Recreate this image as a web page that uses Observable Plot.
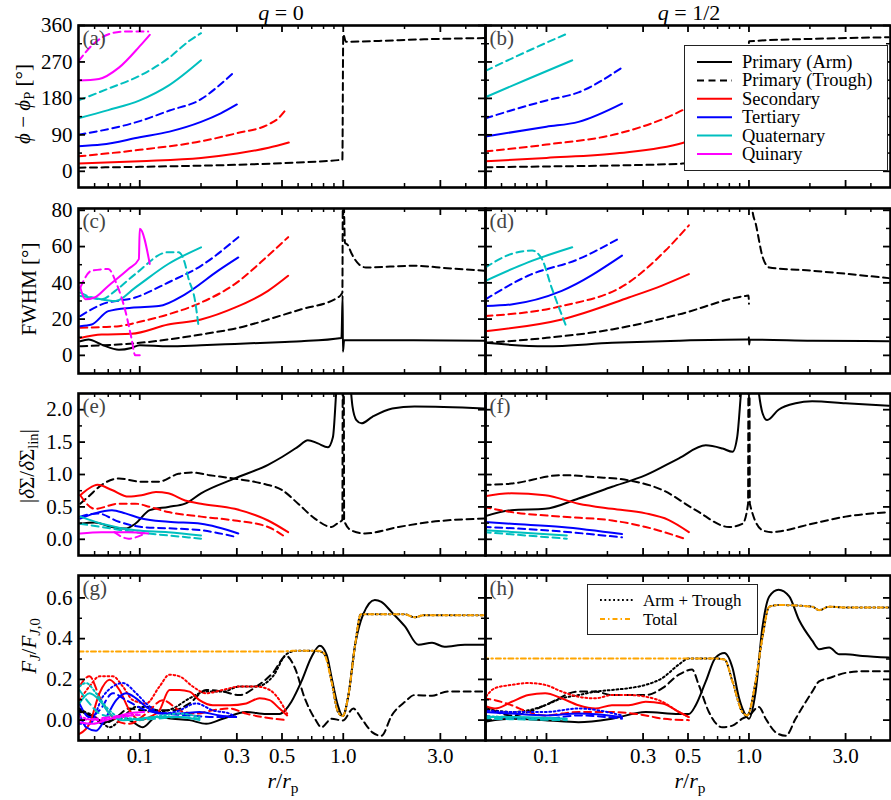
<!DOCTYPE html>
<html><head><meta charset="utf-8">
<script src="https://cdn.jsdelivr.net/npm/d3@7"></script>
<script src="https://cdn.jsdelivr.net/npm/@observablehq/plot@0.6"></script>
<style>
html,body{margin:0;padding:0;background:#fff;overflow:hidden;}
#fig{position:relative;width:891px;height:800px;font-family:"Liberation Serif",serif;color:#000;}
.t{position:absolute;white-space:nowrap;transform:translate(-50%,-50%);line-height:1;}
.rot{transform:translate(-50%,-50%) rotate(-90deg);}
sub{font-size:0.7em;vertical-align:-0.3em;line-height:0;}
#fig svg text{font-family:"Liberation Serif",serif;}
</style></head>
<body><div id="fig"></div>
<script>
// ---------- axis ticks / labels ----------
const xDomain = [0.05, 5];
const xMajor = [0.1, 0.3, 0.5, 1, 3];
const xMajorLabels = ["0.1", "0.3", "0.5", "1.0", "3.0"];
const xMinor = [0.06, 0.07, 0.08, 0.09, 0.2, 0.4, 0.6, 0.7, 0.8, 0.9, 2, 4];
const phaseTicks = [0, 90, 180, 270, 360], phaseLabels = ["0", "90", "180", "270", "360"], phaseMinor = [45, 135, 225, 315];
const fwhmTicks = [0, 20, 40, 60, 80], fwhmLabels = ["0", "20", "40", "60", "80"], fwhmMinor = [10, 30, 50, 70];
const ampTicks = [0, 0.5, 1, 1.5, 2], ampLabels = ["0.0", "0.5", "1.0", "1.5", "2.0"], ampMinor = [0.25, 0.75, 1.25, 1.75];
const fluxTicks = [0, 0.2, 0.4, 0.6], fluxLabels = ["0.0", "0.2", "0.4", "0.6"], fluxMinor = [0.1, 0.3, 0.5];
const colTitles = ["<i>q</i> = 0", "<i>q</i> = 1/2"];
const legendNames = ["Primary (Arm)", "Primary (Trough)", "Secondary", "Tertiary", "Quaternary", "Quinary"];
const legend2Names = ["Arm + Trough", "Total"];

// ---------- (a) phase, q=0 ----------
const a_pri_trough = [[0.05,9],[0.1,11],[0.2,14],[0.3,16],[0.6,22],[0.8,25],[0.99,29],[1.0,338],[1.03,320],[1.5,322],[2.5,326],[5,329]];
const a_sec_arm = [[0.05,19],[0.1,25],[0.2,33],[0.3,44],[0.43,58],[0.54,71]];
const a_sec_trough = [[0.05,37],[0.1,53],[0.2,74],[0.3,94],[0.43,116],[0.48,131],[0.52,151]];
const a_ter_arm = [[0.05,62],[0.065,66],[0.1,84],[0.14,98],[0.2,122],[0.25,143],[0.3,165]];
const a_ter_trough = [[0.05,90],[0.1,124],[0.14,150],[0.2,178],[0.243,210],[0.29,244]];
const a_qua_arm = [[0.05,131],[0.07,151],[0.1,175],[0.139,212],[0.2,274]];
const a_qua_trough = [[0.05,175],[0.07,204],[0.1,236],[0.139,280],[0.174,321],[0.2,341]];
const a_qui_arm = [[0.05,224],[0.063,228],[0.079,256],[0.1,309],[0.112,337]];
const a_qui_trough = [[0.05,272],[0.06,317],[0.073,341],[0.084,345],[0.11,345]];
// ---------- (b) phase, q=1/2 ----------
const b_pri_trough = [[0.05,10],[0.1,12],[0.2,14],[0.47,19],[0.7,24],[0.99,28],[1.0,321],[2.05,327],[4.9,331]];
const b_sec_arm = [[0.05,25],[0.1,33],[0.23,45],[0.47,70],[0.5,74]];
const b_sec_trough = [[0.05,49],[0.1,66],[0.23,94],[0.47,151],[0.5,158]];
const b_ter_arm = [[0.05,86],[0.1,110],[0.144,122],[0.236,167]];
const b_ter_trough = [[0.05,131],[0.1,175],[0.144,195],[0.236,256]];
const b_qua_arm = [[0.05,183],[0.081,228],[0.134,274]];
const b_qua_trough = [[0.05,248],[0.081,297],[0.128,341]];
// ---------- (c) FWHM, q=0 ----------
const c_pri_arm = [[0.051,7.8],[0.056,8.7],[0.065,5.9],[0.079,3.1],[0.091,4.1],[0.1,5.6],[0.138,5.0],[0.2,5.6],[0.293,6.3],[0.516,7.4],[0.622,7.8],[0.98,9.6],[0.993,33],[0.996,2],[1.01,8.3],[1.5,8.3],[5,8.1]];
const c_pri_trough = [[0.051,5],[0.1,6.9],[0.2,11.5],[0.305,15.2],[0.516,22.6],[0.622,25.4],[0.94,31.9],[0.99,34.6],[0.996,95],[1.0,95],[1.02,62],[1.05,61],[1.1,56],[1.2,50],[1.29,48.5],[2.24,49.4],[3.25,48.1],[4.93,46.7]];
const c_sec_arm = [[0.051,9.6],[0.065,11.5],[0.091,11.9],[0.138,17],[0.2,19.8],[0.293,26.3],[0.427,35.6],[0.536,43.9]];
const c_sec_trough = [[0.051,15.2],[0.065,15.6],[0.079,16.1],[0.1,18.5],[0.138,22.6],[0.2,29.1],[0.293,39.3],[0.427,55],[0.536,65.2]];
const c_ter_arm = [[0.051,16.1],[0.058,17],[0.07,24.4],[0.091,26.3],[0.124,27.2],[0.167,33.7],[0.243,46.7],[0.305,54]];
const c_ter_trough = [[0.051,21.7],[0.065,28.1],[0.095,31.9],[0.138,40.2],[0.2,49.4],[0.305,65.2]];
const c_qua_arm = [[0.051,32.8],[0.058,31.9],[0.076,30],[0.095,37.4],[0.138,50.4],[0.2,59.6]];
const c_qua_trough = [[0.051,34.6],[0.065,30.9],[0.076,35.7],[0.095,44.8],[0.138,56.9],[0.155,56.9],[0.167,50.4],[0.173,43],[0.187,30],[0.194,17]];
const c_qui_arm = [[0.051,37.4],[0.054,30.9],[0.06,31.9],[0.07,38.3],[0.088,47.6],[0.099,53.1],[0.1,69.8],[0.112,50.4]];
const c_qui_trough = [[0.051,37.4],[0.058,46.7],[0.07,47.6],[0.077,39.3],[0.085,24.4],[0.091,9.6],[0.095,0],[0.1,0]];
// ---------- (d) FWHM, q=1/2 ----------
const d_pri_arm = [[0.05,6.9],[0.0985,5],[0.211,6.9],[0.451,8.1],[0.96,8.7],[0.995,8.7],[1.0,10],[1.002,6],[1.01,8.7],[2.05,8.1],[4.9,7.8]];
const d_pri_trough_in = [[0.05,6.9],[0.0985,9.6],[0.211,14.3],[0.451,22.6],[0.964,32.8],[0.995,33],[1.0,28.5]];
const d_pri_trough_out = [[1.03,85],[1.04,80],[1.08,72.6],[1.17,54],[1.26,48.5],[2.05,46.7],[4.9,42.6]];
const d_sec_arm = [[0.05,13.3],[0.119,19.8],[0.255,31.9],[0.372,38.5],[0.505,44.8]];
const d_sec_trough = [[0.05,21.7],[0.119,27.2],[0.255,40.2],[0.387,57.8],[0.505,71.7]];
const d_ter_arm = [[0.05,27.2],[0.067,28.1],[0.119,35.6],[0.236,55]];
const d_ter_trough = [[0.05,30.9],[0.081,43.9],[0.144,53.1],[0.227,64.3]];
const d_qua_arm = [[0.05,41.1],[0.081,51.3],[0.134,59.6]];
const d_qua_trough = [[0.05,48.5],[0.067,55.9],[0.085,57.8],[0.095,53.1],[0.106,37.4],[0.126,15.2]];
// ---------- (e) amplitude, q=0 ----------
const e_pri_arm = [[0.051,0.24],[0.06,0.26],[0.073,0.19],[0.085,0.165],[0.095,0.24],[0.112,0.45],[0.138,0.5],[0.167,0.55],[0.2,0.71],[0.293,0.94],[0.427,1.15],[0.5,1.27],[0.6,1.43],[0.67,1.53],[0.75,1.48],[0.84,1.42],[0.89,1.58],[0.92,2.2],[0.95,3],[0.99,3.5],[1.05,3],[1.09,2.3],[1.11,2.05],[1.16,1.84],[1.23,1.79],[1.39,1.89],[1.74,2.02],[2.24,2.05],[4.93,2.02]];
const e_pri_trough = [[0.051,0.55],[0.056,0.66],[0.065,0.84],[0.079,0.94],[0.1,0.89],[0.124,0.89],[0.155,1.01],[0.18,1.03],[0.22,0.99],[0.3,0.93],[0.4,0.86],[0.5,0.76],[0.6,0.55],[0.725,0.32],[0.875,0.19],[0.94,0.25],[0.99,0.3],[0.995,3],[1.005,3],[1.01,0.29],[1.093,0.14],[1.28,0.09],[1.87,0.19],[2.73,0.27],[4.93,0.32]];
const e_sec_arm = [[0.051,0.68],[0.056,0.78],[0.062,0.84],[0.073,0.76],[0.088,0.66],[0.102,0.68],[0.12,0.73],[0.138,0.71],[0.167,0.6],[0.2,0.55],[0.293,0.47],[0.427,0.29],[0.536,0.11]];
const e_sec_trough = [[0.051,0.68],[0.06,0.47],[0.079,0.55],[0.095,0.55],[0.112,0.5],[0.138,0.42],[0.2,0.35],[0.293,0.29],[0.427,0.19],[0.516,0.04]];
const e_ter_arm = [[0.051,0.32],[0.06,0.4],[0.073,0.45],[0.085,0.4],[0.102,0.32],[0.138,0.27],[0.2,0.24],[0.305,0.09]];
const e_ter_trough = [[0.051,0.35],[0.062,0.4],[0.079,0.27],[0.102,0.19],[0.138,0.17],[0.2,0.14],[0.293,0.04]];
const e_qua_arm = [[0.051,0.35],[0.065,0.24],[0.095,0.14],[0.138,0.11],[0.2,0.06]];
const e_qua_trough = [[0.051,0.24],[0.065,0.19],[0.095,0.11],[0.138,0.06],[0.2,0.01]];
const e_qui_arm = [[0.051,0.09],[0.065,0.11],[0.088,0.11],[0.11,0.09]];
const e_qui_trough = [[0.075,0.11],[0.088,0.01],[0.106,0.09]];
// ---------- (f) amplitude, q=1/2 ----------
const f_pri_arm = [[0.049,0.35],[0.067,0.45],[0.0985,0.47],[0.144,0.63],[0.211,0.81],[0.309,0.99],[0.451,1.25],[0.612,1.45],[0.741,1.4],[0.83,1.35],[0.875,1.58],[0.91,2.2],[0.95,3],[1.0,3.5],[1.06,3],[1.12,2.25],[1.166,1.95],[1.23,1.84],[1.4,2.0],[1.7,2.1],[2.05,2.13],[3.0,2.1],[4.91,2.06]];
const f_pri_trough = [[0.049,0.84],[0.067,0.86],[0.119,0.99],[0.174,0.96],[0.255,0.91],[0.374,0.76],[0.546,0.45],[0.798,0.19],[0.93,0.24],[0.99,0.55],[0.995,3],[1.005,3],[1.01,0.55],[1.166,0.14],[1.3,0.11],[1.4,0.12],[2.05,0.24],[3.0,0.35],[4.91,0.42]];
const f_sec_arm = [[0.049,0.66],[0.067,0.71],[0.0985,0.68],[0.144,0.55],[0.211,0.47],[0.309,0.4],[0.4,0.3],[0.505,0.11]];
const f_sec_trough = [[0.049,0.5],[0.067,0.42],[0.119,0.35],[0.211,0.29],[0.309,0.19],[0.48,0.01]];
const f_ter_arm = [[0.049,0.27],[0.067,0.24],[0.119,0.19],[0.236,0.08]];
const f_ter_trough = [[0.049,0.19],[0.0985,0.14],[0.236,0.03]];
const f_qua_arm = [[0.049,0.14],[0.126,0.06]];
const f_qua_trough = [[0.049,0.11],[0.126,0.01]];
// ---------- (g) angular momentum flux, q=0 ----------
const g_pri_arm = [[0.0505,0.048],[0.0588,0.015],[0.0684,-0.01],[0.0795,0.023],[0.0925,-0.01],[0.1035,-0.035],[0.1204,0.015],[0.1454,0.007],[0.1755,0],[0.212,-0.018],[0.256,0.007],[0.3336,0.04],[0.418,0.03],[0.486,0.03],[0.52,0.05],[0.556,0.09],[0.623,0.19],[0.698,0.31],[0.767,0.365],[0.829,0.32],[0.876,0.21],[0.942,0.07],[0.995,0.02],[1.059,0.12],[1.144,0.37],[1.254,0.52],[1.43,0.59],[1.54,0.58],[1.73,0.53],[2.01,0.46],[2.34,0.37],[2.73,0.38],[3.14,0.36],[3.96,0.37],[4.97,0.37]];
const g_pri_trough = [[0.0505,0.057],[0.0588,0.015],[0.0658,-0.018],[0.0737,0],[0.089,0.057],[0.1035,0.048],[0.1454,0.048],[0.1755,0.082],[0.212,0.148],[0.256,0.14],[0.309,0.123],[0.3738,0.165],[0.451,0.232],[0.5246,0.315],[0.578,0.257],[0.647,0.107],[0.725,0.007],[0.782,-0.035],[0.876,0.007],[0.995,-0.002],[1.12,0.057],[1.23,0.007],[1.39,-0.06],[1.54,-0.077],[1.73,0.023],[2.01,0.09],[2.24,0.123],[2.73,0.12],[3.25,0.14],[4.97,0.14]];
const g_pri_sum = [[0.0505,0.04],[0.0566,0.032],[0.0634,0],[0.071,-0.035],[0.0826,0.015],[0.096,0.065],[0.1116,0.065],[0.125,0.04],[0.1454,0.057],[0.1755,0.107],[0.212,0.14],[0.256,0.14],[0.309,0.165],[0.3738,0.165],[0.451,0.215],[0.5246,0.323],[0.5875,0.34],[0.7,0.34],[0.78,0.335],[0.83,0.3],[0.876,0.19],[0.942,0.04],[0.995,0.02],[1.059,0.12],[1.144,0.37],[1.22,0.52],[1.5,0.52],[2.0,0.52],[2.24,0.505],[2.5,0.515],[5,0.515]];
const g_total = [[0.05,0.337],[0.5,0.337],[0.56,0.34],[0.75,0.34],[0.8,0.33],[0.876,0.19],[0.942,0.04],[0.995,0.02],[1.059,0.12],[1.144,0.37],[1.22,0.52],[2.0,0.52],[2.24,0.505],[2.5,0.515],[5,0.515]];
const g_sec_arm = [[0.0505,-0.068],[0.0566,-0.018],[0.0634,0.132],[0.071,0.198],[0.0795,0.148],[0.089,0.048],[0.0997,0],[0.1116,0.015],[0.125,0.048],[0.14,0.148],[0.1567,0.148],[0.1755,0.14],[0.1966,0.098],[0.2285,0.073],[0.276,0.073],[0.3336,0.082],[0.388,0.107],[0.4346,0.098],[0.486,0.057],[0.53,0.023]];
const g_sec_trough = [[0.0505,0.165],[0.0566,0.215],[0.0634,0.115],[0.071,0.032],[0.0795,-0.01],[0.089,-0.018],[0.1075,0.032],[0.1298,0.098],[0.1567,0.048],[0.1892,0.032],[0.2285,0.048],[0.276,0.057],[0.3336,0.032],[0.4025,0.015],[0.5246,0]];
const g_sec_sum = [[0.0505,0.098],[0.0566,0.165],[0.0634,0.215],[0.0737,0.215],[0.0826,0.165],[0.0925,0.098],[0.1075,0.082],[0.125,0.165],[0.14,0.223],[0.1567,0.215],[0.1822,0.165],[0.212,0.132],[0.256,0.148],[0.309,0.165],[0.3738,0.165],[0.4346,0.148],[0.486,0.098],[0.53,0.032]];
const g_ter_arm = [[0.0505,0.032],[0.0545,-0.035],[0.061,-0.052],[0.0684,0.015],[0.0766,0.098],[0.0857,0.132],[0.096,0.107],[0.1075,0.065],[0.125,0.032],[0.1567,0.032],[0.1966,0.04],[0.2465,0.023],[0.2976,0.015]];
const g_ter_trough = [[0.0505,0.082],[0.0566,0.015],[0.0634,0.048],[0.0737,0.132],[0.0857,0.098],[0.1075,0.048],[0.1348,0.032],[0.1755,0.023],[0.2285,0.015],[0.2976,0.015]];
const g_ter_sum = [[0.0505,-0.018],[0.0566,-0.018],[0.0658,0.115],[0.0737,0.165],[0.0826,0.182],[0.096,0.132],[0.1075,0.082],[0.1298,0.032],[0.1567,0.048],[0.1892,0.082],[0.2285,0.048],[0.276,0.032],[0.2976,0.015]];
const g_qua_arm = [[0.0505,0.082],[0.0566,0.132],[0.0634,0.098],[0.071,0.032],[0.0826,0],[0.0997,0.007],[0.1204,0.015],[0.1567,0.015],[0.1966,0]];
const g_qua_trough = [[0.0505,0.148],[0.0566,0.082],[0.0634,0.032],[0.0737,0.015],[0.0925,0],[0.1204,0.007],[0.1567,0.015],[0.1966,0.007]];
const g_qua_sum = [[0.0505,0.165],[0.0545,0.182],[0.061,0.132],[0.0684,0.065],[0.0795,0.015],[0.0997,0.007],[0.1298,0.023],[0.1567,0.032],[0.1966,0.015]];
const g_qui_arm = [[0.0505,-0.01],[0.0588,-0.018],[0.0684,0],[0.0795,0.02],[0.09,0.035],[0.105,0.04]];
const g_qui_trough = [[0.0505,0],[0.065,0.01],[0.08,0.02],[0.1,0.025]];
const g_qui_sum = [[0.0505,0.02],[0.06,0],[0.075,0.01],[0.1,0.03]];
// ---------- (h) angular momentum flux, q=1/2 ----------
const h_pri_arm = [[0.0488,-0.01],[0.0557,0],[0.0673,0.007],[0.0985,0],[0.144,-0.01],[0.2106,0.007],[0.309,0.04],[0.4507,0.03],[0.505,0.03],[0.546,0.073],[0.612,0.19],[0.684,0.307],[0.757,0.33],[0.829,0.257],[0.894,0.107],[0.964,0.023],[1.0,0.007],[1.079,0.14],[1.166,0.457],[1.26,0.607],[1.4,0.64],[1.58,0.607],[1.77,0.49],[2.054,0.39],[2.22,0.348],[2.49,0.357],[2.79,0.323],[3.0,0.323],[3.64,0.315],[4.91,0.307]];
const h_pri_trough = [[0.0488,0.073],[0.0673,0.023],[0.0814,0.04],[0.0985,0.073],[0.144,0.14],[0.1744,0.14],[0.2106,0.123],[0.309,0.123],[0.374,0.157],[0.4507,0.223],[0.524,0.248],[0.565,0.173],[0.634,0.04],[0.738,-0.035],[0.829,-0.027],[0.927,0.007],[1.0,0.023],[1.12,0.065],[1.21,0.007],[1.356,-0.06],[1.52,-0.077],[1.7,0.007],[2.054,0.14],[2.22,0.19],[2.49,0.207],[3.0,0.232],[3.64,0.24],[4.91,0.24]];
const h_pri_sum = [[0.0488,0.057],[0.0673,0.04],[0.0814,0.048],[0.0985,0.073],[0.119,0.107],[0.144,0.123],[0.1744,0.14],[0.2106,0.148],[0.255,0.157],[0.309,0.173],[0.374,0.207],[0.4507,0.273],[0.505,0.303],[0.661,0.303],[0.757,0.298],[0.829,0.19],[0.927,0.04],[0.98,0.023],[1.079,0.19],[1.166,0.407],[1.26,0.557],[1.4,0.565],[2.054,0.557],[2.22,0.54],[2.49,0.557],[3.0,0.553],[4.91,0.553]];
const h_total = [[0.0488,0.303],[0.505,0.303],[0.661,0.303],[0.757,0.298],[0.829,0.19],[0.927,0.04],[0.98,0.023],[1.079,0.19],[1.166,0.407],[1.26,0.557],[1.4,0.565],[2.054,0.557],[2.22,0.54],[2.49,0.557],[3.0,0.553],[4.91,0.553]];
const h_sec_arm = [[0.0488,0.073],[0.0557,0.057],[0.0673,0.09],[0.0814,0.123],[0.0985,0.132],[0.119,0.107],[0.144,0.073],[0.1744,0.057],[0.2106,0.073],[0.255,0.073],[0.309,0.09],[0.374,0.082],[0.4507,0.04],[0.505,0.015]];
const h_sec_trough = [[0.0488,0.107],[0.0557,0.098],[0.0673,0.073],[0.0814,0.04],[0.0985,0.023],[0.119,0.032],[0.144,0.04],[0.2106,0.04],[0.309,0.023],[0.374,0.007],[0.505,0]];
const h_sec_sum = [[0.0488,0.098],[0.0557,0.157],[0.0673,0.173],[0.0814,0.182],[0.0985,0.173],[0.119,0.14],[0.144,0.115],[0.1744,0.107],[0.2106,0.123],[0.255,0.123],[0.309,0.115],[0.374,0.09],[0.4507,0.04],[0.505,0.015]];
const h_ter_arm = [[0.0488,0.04],[0.0673,0.032],[0.0985,0.023],[0.144,0.032],[0.236,0.015]];
const h_ter_trough = [[0.0488,0.023],[0.0673,0.007],[0.0985,0.007],[0.144,0.023],[0.236,0.007]];
const h_ter_sum = [[0.0488,0.048],[0.0673,0.04],[0.0985,0.04],[0.144,0.057],[0.236,0.023]];
const h_qua_arm = [[0.0488,0.015],[0.0673,0.015],[0.126,0.007]];
const h_qua_trough = [[0.0488,0.007],[0.126,0]];
const h_qua_sum = [[0.0488,0.02],[0.126,0.003]];

// ---------- styles ----------
const FONT = "'Liberation Serif', serif";
const COLORS = {k: "#000000", r: "#ff0000", b: "#0000ff", c: "#00bfbf", m: "#ff00ff", o: "#ffa500"};
const DASHES = {solid: null, dash: "7,4.5", dot: "1.8,2.6", dashdot: "5,3,1.5,3"};

const cols = [{left: 78, w: 407}, {left: 485, w: 405}];
const rows = [
  {top: 25, h: 162, domain: [-40, 360], major: phaseTicks, minor: phaseMinor, labels: phaseLabels},
  {top: 208, h: 165, domain: [-10, 81], major: fwhmTicks, minor: fwhmMinor, labels: fwhmLabels},
  {top: 393, h: 162, domain: [-0.25, 2.25], major: ampTicks, minor: ampMinor, labels: ampLabels},
  {top: 575, h: 165, domain: [-0.1, 0.71], major: fluxTicks, minor: fluxMinor, labels: fluxLabels}
];

const panels = [
  {col: 0, row: 0, letter: "(a)", series: [[a_pri_trough,"k","dash"],[a_sec_arm,"r","solid"],[a_sec_trough,"r","dash"],[a_ter_arm,"b","solid"],[a_ter_trough,"b","dash"],[a_qua_arm,"c","solid"],[a_qua_trough,"c","dash"],[a_qui_arm,"m","solid"],[a_qui_trough,"m","dash"]]},
  {col: 1, row: 0, letter: "(b)", series: [[b_pri_trough,"k","dash"],[b_sec_arm,"r","solid"],[b_sec_trough,"r","dash"],[b_ter_arm,"b","solid"],[b_ter_trough,"b","dash"],[b_qua_arm,"c","solid"],[b_qua_trough,"c","dash"]]},
  {col: 0, row: 1, letter: "(c)", series: [[c_pri_arm,"k","solid"],[c_pri_trough,"k","dash"],[c_sec_arm,"r","solid"],[c_sec_trough,"r","dash"],[c_ter_arm,"b","solid"],[c_ter_trough,"b","dash"],[c_qua_arm,"c","solid"],[c_qua_trough,"c","dash"],[c_qui_arm,"m","solid"],[c_qui_trough,"m","dash"]]},
  {col: 1, row: 1, letter: "(d)", series: [[d_pri_arm,"k","solid"],[d_pri_trough_in,"k","dash"],[d_pri_trough_out,"k","dash"],[d_sec_arm,"r","solid"],[d_sec_trough,"r","dash"],[d_ter_arm,"b","solid"],[d_ter_trough,"b","dash"],[d_qua_arm,"c","solid"],[d_qua_trough,"c","dash"]]},
  {col: 0, row: 2, letter: "(e)", series: [[e_pri_arm,"k","solid"],[e_pri_trough,"k","dash"],[e_sec_arm,"r","solid"],[e_sec_trough,"r","dash"],[e_ter_arm,"b","solid"],[e_ter_trough,"b","dash"],[e_qua_arm,"c","solid"],[e_qua_trough,"c","dash"],[e_qui_arm,"m","solid"],[e_qui_trough,"m","dash"]]},
  {col: 1, row: 2, letter: "(f)", series: [[f_pri_arm,"k","solid"],[f_pri_trough,"k","dash"],[f_sec_arm,"r","solid"],[f_sec_trough,"r","dash"],[f_ter_arm,"b","solid"],[f_ter_trough,"b","dash"],[f_qua_arm,"c","solid"],[f_qua_trough,"c","dash"]]},
  {col: 0, row: 3, letter: "(g)", series: [[g_pri_arm,"k","solid"],[g_pri_trough,"k","dash"],[g_pri_sum,"k","dot"],[g_sec_arm,"r","solid"],[g_sec_trough,"r","dash"],[g_sec_sum,"r","dot"],[g_ter_arm,"b","solid"],[g_ter_trough,"b","dash"],[g_ter_sum,"b","dot"],[g_qua_arm,"c","solid"],[g_qua_trough,"c","dash"],[g_qua_sum,"c","dot"],[g_qui_arm,"m","solid"],[g_qui_trough,"m","dash"],[g_qui_sum,"m","dot"],[g_total,"o","dashdot"]]},
  {col: 1, row: 3, letter: "(h)", series: [[h_pri_arm,"k","solid"],[h_pri_trough,"k","dash"],[h_pri_sum,"k","dot"],[h_sec_arm,"r","solid"],[h_sec_trough,"r","dash"],[h_sec_sum,"r","dot"],[h_ter_arm,"b","solid"],[h_ter_trough,"b","dash"],[h_ter_sum,"b","dot"],[h_qua_arm,"c","solid"],[h_qua_trough,"c","dash"],[h_qua_sum,"c","dot"],[h_total,"o","dashdot"]]}
];

const fig = document.getElementById("fig");

function makePanel(p) {
  const col = cols[p.col], row = rows[p.row];
  const W = col.w, H = row.h;
  const mL = p.col === 0 ? 78 : 3, mR = 3, mT = 3, mB = p.row === 3 ? 34 : 3;
  const marks = [];
  for (const [data, c, s] of p.series) {
    marks.push(Plot.line(data, {x: d => d[0], y: d => d[1], stroke: COLORS[c], strokeWidth: 2, strokeDasharray: DASHES[s], curve: "monotone-x", clip: true}));
  }
  marks.push(Plot.tickX(xMajor, {x: d => d, insetTop: H - 7, strokeWidth: 1.8}));
  marks.push(Plot.tickX(xMajor, {x: d => d, insetBottom: H - 7, strokeWidth: 1.8}));
  marks.push(Plot.tickX(xMinor, {x: d => d, insetTop: H - 4, strokeWidth: 1.5}));
  marks.push(Plot.tickX(xMinor, {x: d => d, insetBottom: H - 4, strokeWidth: 1.5}));
  marks.push(Plot.tickY(row.major, {y: d => d, insetRight: W - 7, strokeWidth: 1.8}));
  marks.push(Plot.tickY(row.major, {y: d => d, insetLeft: W - 7, strokeWidth: 1.8}));
  marks.push(Plot.tickY(row.minor, {y: d => d, insetRight: W - 4, strokeWidth: 1.5}));
  marks.push(Plot.tickY(row.minor, {y: d => d, insetLeft: W - 4, strokeWidth: 1.5}));
  marks.push(Plot.frame({stroke: "#000", strokeWidth: 2.6}));
  if (p.col === 0) {
    marks.push(Plot.text(row.major, {y: d => d, text: (d, i) => row.labels[i], frameAnchor: "left", textAnchor: "end", dx: -6, fontSize: 21, fontFamily: FONT, fill: "#000"}));
  }
  if (p.row === 3) {
    marks.push(Plot.text(xMajor, {x: d => d, text: (d, i) => xMajorLabels[i], frameAnchor: "bottom", lineAnchor: "top", dy: 8, fontSize: 21, fontFamily: FONT, fill: "#000"}));
  }
  marks.push(Plot.text([p.letter], {text: d => d, frameAnchor: "top-left", textAnchor: "start", lineAnchor: "top", dx: 4, dy: 5, fontSize: 21, fontFamily: FONT, fill: "#444"}));
  const svg = Plot.plot({
    width: W + mL + mR, height: H + mT + mB,
    marginLeft: mL, marginRight: mR, marginTop: mT, marginBottom: mB,
    x: {type: "log", domain: xDomain, axis: null},
    y: {domain: row.domain, axis: null},
    style: {background: "transparent", overflow: "visible", fontFamily: FONT},
    marks
  });
  svg.style.position = "absolute";
  svg.style.left = (col.left - mL) + "px";
  svg.style.top = (row.top - mT) + "px";
  svg.style.maxWidth = "none";
  fig.appendChild(svg);
}
panels.forEach(makePanel);

// ---------- text labels ----------
function addText(html, x, y, size, rotate) {
  const d = document.createElement("div");
  d.className = "t" + (rotate ? " rot" : "");
  d.style.left = x + "px"; d.style.top = y + "px"; d.style.fontSize = size + "px";
  d.innerHTML = html;
  fig.appendChild(d);
}
addText(colTitles[0], 281, 13, 22);
addText(colTitles[1], 689, 13, 22);
addText("<i>r</i>/<i>r</i><sub>p</sub>", 283, 781, 22);
addText("<i>r</i>/<i>r</i><sub>p</sub>", 690, 781, 22);
addText("<i>ϕ</i> − <i>ϕ</i><sub>P</sub> [°]", 23, 104, 21, true);
addText("FWHM [°]", 29, 289, 21, true);
addText("|<i>δ</i>Σ/<i>δ</i>Σ<sub>lin</sub>|", 27, 466, 21, true);
addText("<i>F<sub>J</sub></i>/<i>F</i><sub><i>J</i>,0</sub>", 29, 646, 21, true);

// ---------- legends ----------
function addLegend(left, top, w, h, entries, sampleX0, sampleX1, textX, y0, dy, fs) {
  const ns = "http://www.w3.org/2000/svg";
  const svg = document.createElementNS(ns, "svg");
  svg.setAttribute("width", w); svg.setAttribute("height", h);
  svg.style.position = "absolute"; svg.style.left = left + "px"; svg.style.top = top + "px";
  const rect = document.createElementNS(ns, "rect");
  rect.setAttribute("x", 0.5); rect.setAttribute("y", 0.5); rect.setAttribute("width", w - 1); rect.setAttribute("height", h - 1);
  rect.setAttribute("fill", "#fff"); rect.setAttribute("stroke", "#222"); rect.setAttribute("stroke-width", 1);
  svg.appendChild(rect);
  entries.forEach((e, i) => {
    const y = y0 + i * dy;
    const ln = document.createElementNS(ns, "line");
    ln.setAttribute("x1", sampleX0); ln.setAttribute("x2", sampleX1); ln.setAttribute("y1", y); ln.setAttribute("y2", y);
    ln.setAttribute("stroke", COLORS[e[1]]); ln.setAttribute("stroke-width", 2);
    if (DASHES[e[2]]) ln.setAttribute("stroke-dasharray", DASHES[e[2]]);
    svg.appendChild(ln);
    const tx = document.createElementNS(ns, "text");
    tx.setAttribute("x", textX); tx.setAttribute("y", y); tx.setAttribute("dominant-baseline", "central");
    tx.setAttribute("font-family", FONT); tx.setAttribute("font-size", fs);
    tx.textContent = e[0];
    svg.appendChild(tx);
  });
  fig.appendChild(svg);
}
addLegend(684, 45, 204, 126, [[legendNames[0],"k","solid"],[legendNames[1],"k","dash"],[legendNames[2],"r","solid"],[legendNames[3],"b","solid"],[legendNames[4],"c","solid"],[legendNames[5],"m","solid"]], 13, 48, 58, 17, 18.4, 18.5);
addLegend(587, 584, 171, 51, [[legend2Names[0],"k","dot"],[legend2Names[1],"o","dashdot"]], 13, 46, 56, 16, 19, 17);
</script>
</body></html>
